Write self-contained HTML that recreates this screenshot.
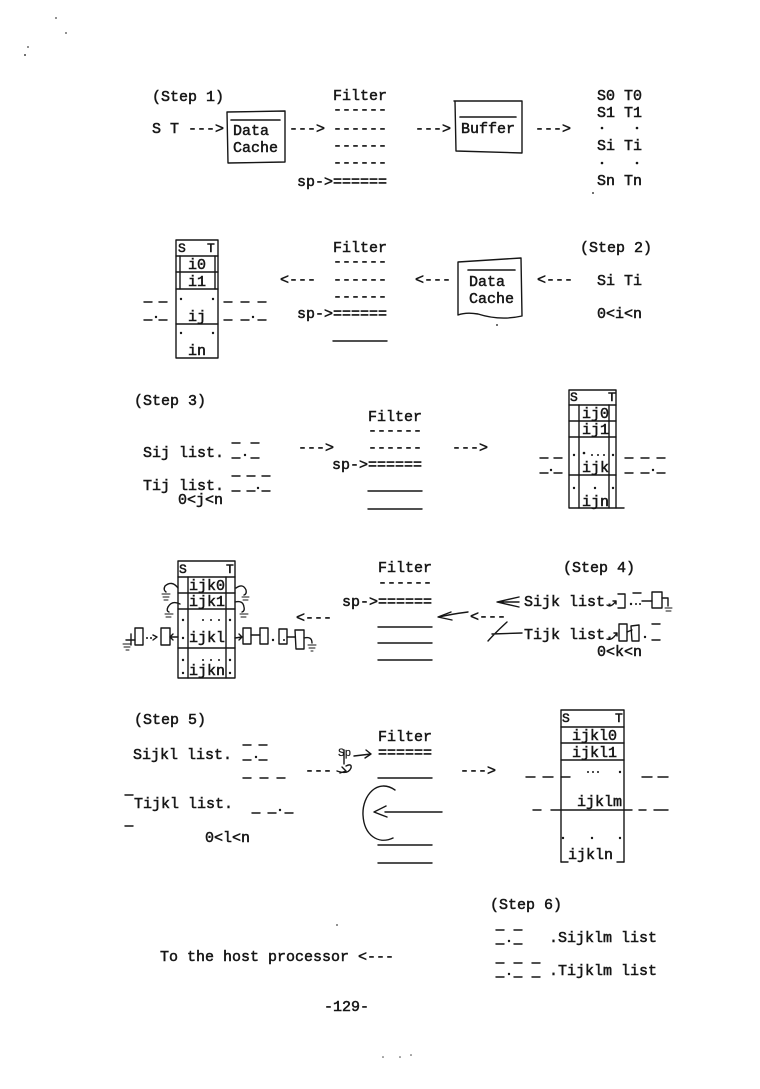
<!DOCTYPE html>
<html><head><meta charset="utf-8">
<style>
html,body{margin:0;padding:0;background:#fff;}
svg{display:block;}
text{font-family:"Liberation Mono","DejaVu Sans Mono",monospace;font-size:15px;fill:#161616;stroke:#161616;stroke-width:0.5;white-space:pre;}
.s{font-size:13px;}
.h{font-size:11px;stroke-width:0.2;}
</style></head><body>
<svg width="760" height="1089" viewBox="0 0 760 1089" xmlns="http://www.w3.org/2000/svg">
<rect width="760" height="1089" fill="#fff"/>

<!-- specks -->
<g fill="#444">
<circle cx="56" cy="18" r="0.9"/><circle cx="66" cy="33" r="0.9"/><circle cx="28" cy="47" r="0.9"/><circle cx="25" cy="55" r="1"/>
<circle cx="337" cy="925" r="0.9"/><circle cx="383" cy="1057" r="0.8"/><circle cx="400" cy="1057" r="0.8"/><circle cx="411" cy="1055" r="0.8"/>
<circle cx="593" cy="193" r="1"/><circle cx="497" cy="325" r="1"/>
</g>

<g stroke="#161616" stroke-width="1.4" fill="none" stroke-linecap="round" stroke-linejoin="round">
<!-- ===== STEP 1 ===== -->
<path d="M227 112 L285 111 L285 162 L228 163 Z"/>
<path d="M231 120 L280 120" stroke-width="1.6"/>
<path d="M454 101 L522 101 L522 153 L456 151 L455 101"/>
<path d="M460 117 L516 117" stroke-width="1.6"/>

<!-- ===== STEP 2 ===== -->
<rect x="176" y="240" width="42" height="118"/>
<path d="M176 256 L218 256 M176 272 L218 272 M176 289 L218 289 M176 324 L218 324"/>
<path d="M180 256 L180 289 M215 256 L215 289"/>
<path d="M458 262 L521 258 L522 316 Q500 321 478 314 Q466 312 458 315 Z"/>
<path d="M468 270 L515 270" stroke-width="1.6"/>
<path d="M333 341 L387 341"/>
<path d="M144 302 L152 302 M159 302 L167 302 M144 320 L152 320 M159 320 L167 320"/>
<path d="M224 302 L232 302 M241 302 L249 302 M258 302 L266 302 M224 320 L232 320 M241 320 L249 320 M258 320 L266 320"/>

<!-- ===== STEP 3 ===== -->
<rect x="569" y="390" width="47" height="118"/>
<path d="M569 405 L616 405 M569 421 L616 421 M569 437 L616 437 M569 475 L616 475"/>
<path d="M579 405 L579 508 M609 405 L609 508"/>
<path d="M616 508 L624 508"/>
<path d="M368 491 L422 491 M368 509 L422 509"/>
<path d="M232 443 L240 443 M251 443 L259 443 M232 458 L240 458 M251 458 L259 458"/>
<path d="M232 476 L240 476 M247 476 L255 476 M262 476 L270 476 M232 491 L240 491 M247 491 L255 491 M262 491 L270 491"/>
<path d="M540 458 L548 458 M554 458 L562 458 M540 473 L548 473 M554 473 L562 473"/>
<path d="M625 458 L633 458 M641 458 L649 458 M657 458 L665 458 M625 473 L633 473 M641 473 L649 473 M657 473 L665 473"/>

<!-- ===== STEP 4 ===== -->
<rect x="178" y="561" width="57" height="117"/>
<path d="M178 577 L235 577 M178 593 L235 593 M178 609 L235 609 M178 648 L235 648"/>
<path d="M188 577 L188 678 M226 577 L226 678"/>
<path d="M378 627 L432 627 M378 643 L432 643 M378 660 L432 660"/>
<path d="M178 588 Q172 580 165 586 Q163 590 166 592"/>
<path d="M162 594 L170 594 M163 597 L169 597 M164 600 L168 600" stroke-width="1"/>
<path d="M236 588 Q243 583 246 590 Q247 594 244 595"/>
<path d="M242 597 L249 597 M243 600 L248 600" stroke-width="1"/>
<path d="M180 604 Q172 600 168 607 Q166 611 169 612"/>
<path d="M165 614 L173 614 M166 617 L171 617" stroke-width="1"/>
<path d="M235 602 Q243 600 244 607 Q245 611 242 612"/>
<path d="M240 614 L248 614 M241 617 L246 617" stroke-width="1"/>
<path d="M235 638 L242 637 M239 634 L242 637 L239 640"/>
<rect x="243" y="628" width="8" height="16"/>
<path d="M251 635 L260 635"/>
<rect x="260" y="628" width="8" height="16"/>
<rect x="279" y="629" width="8" height="15"/>
<path d="M287 637 L295 637"/>
<path d="M295 630 L304 630 L304 649 L296 649 Z"/>
<path d="M304 638 Q312 636 312 643"/>
<path d="M308 645 L316 645 M309 648 L315 648 M311 651 L313 651" stroke-width="1"/>
<path d="M178 637 L170 637 M173 634 L170 637 L173 640"/>
<rect x="161" y="628" width="9" height="17"/>
<path d="M157 637 L153 635 M157 637 L153 640"/>
<rect x="135" y="628" width="8" height="17"/>
<path d="M131 634 L131 645 M135 640 L126 640"/>
<path d="M123 644 L131 644 M124 647 L130 647 M126 650 L129 650" stroke-width="1"/>
<path d="M451 612 L438 617 L452 620" />
<path d="M468 612 Q452 614 439 617"/>
<path d="M519 597 L497 602 L519 607 M499 602 L519 602"/>
<path d="M522 633 L492 634 M488 641 Q496 632 507 622"/>
<path d="M607 605 Q611 608 616 601 M613 601 L616 601 L616 604"/>
<path d="M618 594 L625 594 L625 608 L618 608"/>
<path d="M633 593 L641 593 M642 601 L652 601"/>
<rect x="652" y="592" width="10" height="16"/>
<path d="M662 598 L668 598 L668 606"/>
<path d="M665 608 L672 608 M666 611 L671 611" stroke-width="1"/>
<path d="M607 639 Q612 641 617 633 M614 633 L617 633 L617 636"/>
<rect x="619" y="624" width="8" height="17"/>
<path d="M627 632 L632 630"/>
<path d="M631 626 L639 625 L639 641 L632 641 Z"/>
<path d="M652 624 L660 624 M652 640 L660 640"/>

<!-- ===== STEP 5 ===== -->
<path d="M378 778 L432 778"/>
<path d="M385 812 L442 812"/>
<path d="M378 845 L432 845 M378 863 L432 863"/>
<path d="M395 790 C378 778 362 795 363 815 C364 835 378 845 393 838"/>
<path d="M386 806 L374 812 L387 817"/>
<path d="M243 745 L251 745 M259 745 L267 745 M243 760 L251 760 M259 760 L267 760"/>
<path d="M243 778 L251 778 M260 778 L268 778 M277 778 L285 778"/>
<path d="M252 813 L260 813 M268 813 L276 813 M285 813 L293 813"/>
<path d="M125 795 L133 795 M125 826 L133 826"/>
<path d="M344 750 L344 764"/>
<path d="M354 756 L371 754 M366 750 L371 754 L365 758"/>
<path d="M337 771 Q348 775 351 768 Q352 763 346 766"/>
<path d="M342 767 L346 771 L340 773"/>
<path d="M561 710 L624 710 M561 710 L561 862 M624 710 L624 862"/>
<path d="M561 727 L624 727 M561 743 L624 743 M561 760 L624 760"/>
<path d="M561 862 L568 862 M617 862 L624 862"/>
<path d="M526 777 L535 777 M543 777 L553 777 M561 777 L570 777 M642 777 L652 777 M658 777 L668 777"/>
<path d="M533 810 L541 810 M551 810 L632 810 M639 810 L646 810 M654 810 L668 810"/>

<!-- ===== STEP 6 ===== -->
<path d="M496 930 L504 930 M514 930 L522 930 M496 944 L504 944 M514 944 L522 944"/>
<path d="M496 963 L504 963 M514 963 L522 963 M532 963 L540 963 M496 977 L504 977 M514 977 L522 977 M532 977 L540 977"/>
</g>

<!-- dots -->
<g fill="#161616">
<circle cx="602" cy="128" r="1.3"/><circle cx="637" cy="128" r="1.3"/>
<circle cx="602" cy="163" r="1.3"/><circle cx="637" cy="163" r="1.3"/>
<circle cx="181" cy="299" r="1.2"/><circle cx="213" cy="299" r="1.2"/>
<circle cx="181" cy="333" r="1.2"/><circle cx="213" cy="333" r="1.2"/>
<circle cx="156" cy="317" r="1.2"/><circle cx="253" cy="317" r="1.2"/>
<circle cx="245" cy="455" r="1.2"/><circle cx="258" cy="488" r="1.2"/>
<circle cx="574" cy="455" r="1.2"/><circle cx="613" cy="455" r="1.2"/>
<circle cx="584" cy="453" r="1.3"/><circle cx="592" cy="455" r="1"/><circle cx="598" cy="455" r="1"/><circle cx="604" cy="455" r="1"/>
<circle cx="574" cy="488" r="1.2"/><circle cx="613" cy="488" r="1.2"/><circle cx="595" cy="488" r="1.2"/>
<circle cx="551" cy="470" r="1.2"/><circle cx="653" cy="470" r="1.2"/>
<circle cx="183" cy="620" r="1.2"/><circle cx="230" cy="620" r="1.2"/>
<circle cx="203" cy="620" r="1"/><circle cx="211" cy="620" r="1"/><circle cx="219" cy="620" r="1"/>
<circle cx="183" cy="638" r="1.2"/><circle cx="230" cy="660" r="1.2"/><circle cx="183" cy="660" r="1.2"/>
<circle cx="230" cy="673" r="1.2"/><circle cx="183" cy="673" r="1.2"/>
<circle cx="203" cy="660" r="1"/><circle cx="211" cy="660" r="1"/><circle cx="219" cy="660" r="1"/>
<circle cx="273" cy="640" r="1.2"/><circle cx="284" cy="640" r="1"/>
<circle cx="147" cy="638" r="1"/><circle cx="151" cy="638" r="1"/>
<circle cx="631" cy="604" r="1.2"/><circle cx="636" cy="604" r="1"/><circle cx="640" cy="604" r="1"/>
<circle cx="645" cy="637" r="1.2"/>
<circle cx="256" cy="757" r="1.2"/><circle cx="280" cy="810" r="1.2"/>
<circle cx="588" cy="772" r="1"/><circle cx="593" cy="772" r="1"/><circle cx="598" cy="772" r="1"/><circle cx="620" cy="772" r="1.2"/>
<circle cx="563" cy="838" r="1.2"/><circle cx="592" cy="838" r="1.2"/><circle cx="620" cy="838" r="1.2"/>
<circle cx="509" cy="941" r="1.2"/><circle cx="509" cy="974" r="1.2"/>
</g>

<!-- Step 1 -->
<text x="152" y="101">(Step 1)</text>
<text x="333" y="100">Filter</text>
<text x="333" y="114">------</text>
<text x="152" y="133">S T ---&gt;</text>
<text x="233" y="135">Data</text>
<text x="233" y="152">Cache</text>
<text x="289" y="133">---&gt;</text>
<text x="333" y="133">------</text>
<text x="333" y="150">------</text>
<text x="333" y="167">------</text>
<text x="297" y="186">sp-&gt;======</text>
<text x="415" y="133">---&gt;</text>
<text x="461" y="133">Buffer</text>
<text x="535" y="133">---&gt;</text>
<text x="597" y="100">S0 T0</text>
<text x="597" y="117">S1 T1</text>
<text x="597" y="150">Si Ti</text>
<text x="597" y="185">Sn Tn</text>

<!-- Step 2 -->
<text class="s" x="178" y="252">S</text>
<text class="s" x="207" y="252">T</text>
<text x="188" y="269">i0</text>
<text x="188" y="286">i1</text>
<text x="188" y="321">ij</text>
<text x="188" y="355">in</text>
<text x="333" y="252">Filter</text>
<text x="333" y="266">------</text>
<text x="280" y="284">&lt;---</text>
<text x="333" y="284">------</text>
<text x="333" y="301">------</text>
<text x="297" y="318">sp-&gt;======</text>
<text x="415" y="284">&lt;---</text>
<text x="469" y="286">Data</text>
<text x="469" y="303">Cache</text>
<text x="537" y="284">&lt;---</text>
<text x="580" y="252">(Step 2)</text>
<text x="597" y="285">Si Ti</text>
<text x="597" y="318">0&lt;i&lt;n</text>

<!-- Step 3 -->
<text x="134" y="405">(Step 3)</text>
<text x="368" y="421">Filter</text>
<text x="368" y="435">------</text>
<text x="143" y="457">Sij list.</text>
<text x="298" y="452">---&gt;</text>
<text x="368" y="452">------</text>
<text x="452" y="452">---&gt;</text>
<text x="332" y="469">sp-&gt;======</text>
<text x="143" y="490">Tij list.</text>
<text x="178" y="504">0&lt;j&lt;n</text>
<text class="s" x="570" y="401">S</text>
<text class="s" x="608" y="401">T</text>
<text x="582" y="418">ij0</text>
<text x="582" y="434">ij1</text>
<text x="582" y="472">ijk</text>
<text x="582" y="506">ijn</text>

<!-- Step 4 -->
<text class="s" x="179" y="573">S</text>
<text class="s" x="226" y="573">T</text>
<text x="189" y="590">ijk0</text>
<text x="189" y="606">ijk1</text>
<text x="189" y="642">ijkl</text>
<text x="189" y="675">ijkn</text>
<text x="296" y="622">&lt;---</text>
<text x="378" y="572">Filter</text>
<text x="378" y="587">------</text>
<text x="342" y="606">sp-&gt;======</text>
<text x="563" y="572">(Step 4)</text>
<text x="524" y="606">Sijk list.</text>
<text x="470" y="621">&lt;---</text>
<text x="524" y="639">Tijk list.</text>
<text x="597" y="656">0&lt;k&lt;n</text>

<!-- Step 5 -->
<text x="134" y="724">(Step 5)</text>
<text x="378" y="741">Filter</text>
<text x="378" y="757">======</text>
<text class="h" x="338" y="756">Sp</text>
<text x="133" y="759">Sijkl list.</text>
<text x="305" y="775">---</text>
<text x="460" y="775">---&gt;</text>
<text x="134" y="808">Tijkl list.</text>
<text x="205" y="842">0&lt;l&lt;n</text>
<text class="s" x="562" y="722">S</text>
<text class="s" x="615" y="722">T</text>
<text x="572" y="740">ijkl0</text>
<text x="572" y="757">ijkl1</text>
<text x="577" y="806">ijklm</text>
<text x="568" y="859">ijkln</text>

<!-- Step 6 -->
<text x="490" y="909">(Step 6)</text>
<text x="549" y="942">.Sijklm list</text>
<text x="549" y="975">.Tijklm list</text>
<text x="160" y="961">To the host processor &lt;---</text>
<text x="324" y="1011">-129-</text>
</svg>
</body></html>
